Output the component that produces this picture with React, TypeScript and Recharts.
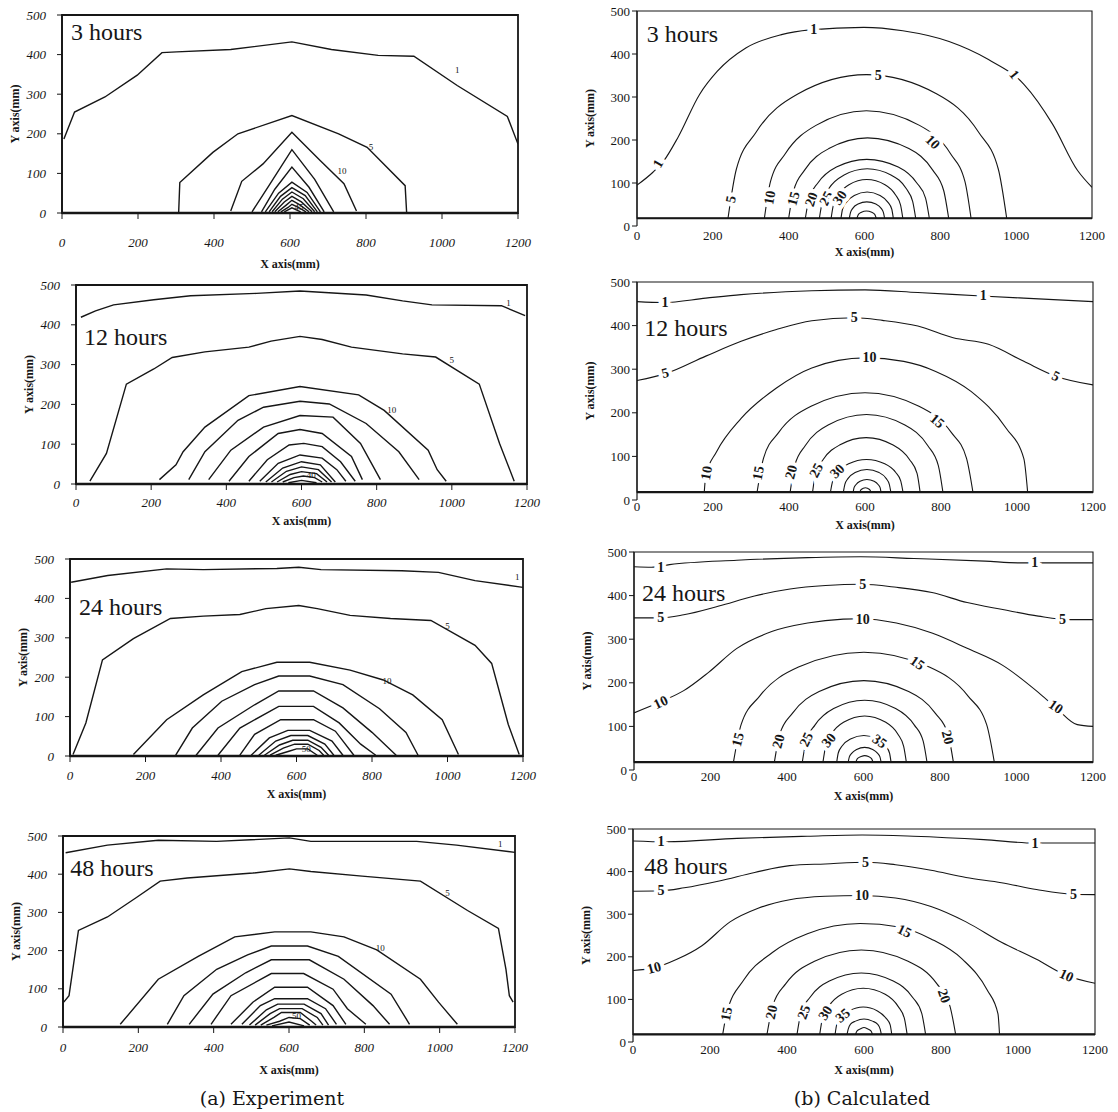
import React from 'react';
import { LineChart, Line, XAxis, YAxis, ReferenceArea, ReferenceDot, ReferenceLine } from 'recharts';

type Pt = [number, number];
type Contour = { level: number; pts: Pt[] };
type Tag = [number, number, string, number];
type Box = { x0: number; x1: number; top: number; bottom: number; tick: number; label: number };

const xTicks = [0, 200, 400, 600, 800, 1000, 1200];
const yTicks = [0, 100, 200, 300, 400, 500];
const titles = ['3 hours', '12 hours', '24 hours', '48 hours'];
const captions = ['(a) Experiment', '(b) Calculated'];
const calcBase = 18;

// (a) experiment, contour points in mm
const exp3: Contour[] = [
  { level: 1, pts: [[5, 187], [33, 255], [113, 293], [198, 348], [263, 405], [302, 407], [444, 413], [605, 432], [709, 413], [832, 398], [926, 396], [1040, 322], [1172, 244], [1200, 174]] },
  { level: 5, pts: [[307, 1], [310, 77], [397, 153], [463, 200], [605, 246], [728, 200], [803, 166], [903, 69], [907, 0]] },
  { level: 10, pts: [[444, 5], [473, 80], [529, 124], [605, 204], [680, 132], [742, 74], [775, 5]] },
  { level: 15, pts: [[500, 3], [545, 70], [605, 160], [665, 85], [715, 3]] },
  { level: 20, pts: [[525, 3], [560, 60], [605, 116], [650, 65], [690, 3]] },
  { level: 25, pts: [[535, 3], [570, 50], [605, 78], [645, 52], [680, 3]] },
  { level: 30, pts: [[545, 3], [575, 42], [605, 64], [640, 44], [672, 3]] },
  { level: 35, pts: [[553, 3], [580, 35], [605, 53], [635, 36], [665, 3]] },
  { level: 40, pts: [[560, 3], [585, 28], [605, 42], [630, 28], [658, 3]] },
  { level: 45, pts: [[568, 3], [590, 20], [605, 32], [625, 21], [650, 3]] },
  { level: 50, pts: [[576, 3], [595, 14], [605, 22], [622, 14], [642, 3]] },
  { level: 55, pts: [[585, 3], [605, 13], [628, 3]] },
];
const exp12: Contour[] = [
  { level: 1, pts: [[13, 419], [52, 435], [100, 450], [207, 463], [305, 473], [480, 479], [596, 485], [772, 475], [869, 460], [947, 450], [1132, 448], [1195, 423]] },
  { level: 5, pts: [[37, 7], [81, 77], [134, 251], [207, 289], [256, 318], [343, 332], [460, 344], [519, 359], [596, 371], [655, 363], [733, 344], [869, 327], [957, 319], [1073, 251], [1127, 102], [1166, 7]] },
  { level: 10, pts: [[222, 11], [266, 48], [285, 81], [343, 143], [460, 222], [596, 245], [752, 224], [820, 185], [937, 85], [961, 36], [985, 7]] },
  { level: 15, pts: [[300, 11], [343, 81], [431, 160], [499, 193], [596, 208], [674, 201], [772, 152], [859, 81], [913, 11]] },
  { level: 20, pts: [[353, 11], [412, 85], [499, 143], [596, 172], [684, 168], [757, 102], [810, 11]] },
  { level: 25, pts: [[407, 7], [460, 69], [538, 127], [596, 137], [655, 127], [733, 69], [762, 11]] },
  { level: 30, pts: [[460, 7], [509, 61], [567, 98], [606, 102], [655, 94], [704, 56], [743, 7]] },
  { level: 35, pts: [[489, 7], [538, 52], [596, 73], [655, 65], [694, 36], [718, 7]] },
  { level: 40, pts: [[505, 5], [550, 40], [600, 56], [650, 48], [690, 5]] },
  { level: 45, pts: [[520, 5], [560, 32], [600, 43], [645, 36], [680, 5]] },
  { level: 50, pts: [[535, 5], [570, 24], [600, 31], [640, 26], [668, 5]] },
  { level: 55, pts: [[550, 5], [580, 16], [605, 20], [635, 16], [655, 5]] },
  { level: 60, pts: [[565, 3], [600, 9], [640, 3]] },
];
const exp24: Contour[] = [
  { level: 1, pts: [[3, 441], [100, 458], [256, 475], [353, 473], [548, 476], [606, 479], [665, 473], [879, 470], [976, 466], [1073, 445], [1200, 428]] },
  { level: 5, pts: [[8, 4], [42, 84], [86, 244], [168, 298], [266, 349], [353, 355], [450, 359], [519, 374], [606, 382], [655, 374], [742, 357], [849, 349], [956, 344], [1073, 281], [1117, 235], [1161, 80], [1190, 4]] },
  { level: 10, pts: [[168, 4], [256, 92], [353, 155], [455, 214], [548, 238], [635, 238], [742, 218], [830, 193], [908, 155], [986, 92], [1029, 4]] },
  { level: 15, pts: [[280, 2], [324, 71], [402, 139], [489, 181], [553, 203], [635, 203], [723, 181], [820, 120], [890, 60], [922, 2]] },
  { level: 20, pts: [[334, 2], [392, 71], [489, 130], [553, 165], [645, 165], [723, 122], [800, 60], [864, 2]] },
  { level: 25, pts: [[392, 2], [450, 71], [553, 126], [645, 126], [713, 84], [770, 30], [810, 2]] },
  { level: 30, pts: [[450, 2], [489, 55], [558, 92], [645, 92], [703, 63], [752, 2]] },
  { level: 35, pts: [[480, 2], [528, 46], [577, 65], [635, 65], [694, 38], [723, 2]] },
  { level: 40, pts: [[500, 2], [545, 38], [585, 52], [630, 52], [675, 30], [699, 2]] },
  { level: 45, pts: [[515, 2], [555, 28], [590, 40], [630, 40], [665, 22], [685, 2]] },
  { level: 50, pts: [[530, 2], [565, 20], [595, 30], [630, 30], [660, 14], [672, 2]] },
  { level: 55, pts: [[545, 2], [580, 12], [600, 18], [630, 18], [655, 2]] },
];
const exp48: Contour[] = [
  { level: 1, pts: [[7, 456], [118, 476], [253, 489], [408, 486], [601, 495], [658, 486], [939, 486], [1045, 476], [1200, 457]] },
  { level: 5, pts: [[2, 65], [16, 82], [41, 253], [118, 288], [195, 339], [258, 382], [330, 390], [504, 403], [601, 414], [658, 407], [794, 395], [949, 382], [1074, 305], [1156, 258], [1176, 151], [1185, 82], [1195, 65]] },
  { level: 10, pts: [[152, 7], [253, 125], [359, 185], [456, 236], [562, 249], [658, 249], [746, 236], [833, 202], [949, 125], [997, 65], [1047, 7]] },
  { level: 15, pts: [[277, 7], [321, 82], [408, 151], [490, 189], [553, 212], [649, 212], [731, 185], [871, 86], [920, 7]] },
  { level: 20, pts: [[335, 7], [398, 86], [485, 142], [553, 176], [654, 176], [746, 125], [823, 56], [867, 7]] },
  { level: 25, pts: [[393, 7], [446, 82], [553, 140], [639, 140], [717, 99], [755, 48], [804, 7]] },
  { level: 30, pts: [[446, 7], [504, 65], [562, 104], [649, 104], [717, 56], [751, 7]] },
  { level: 35, pts: [[475, 7], [524, 56], [562, 74], [649, 74], [697, 48], [726, 7]] },
  { level: 40, pts: [[495, 5], [540, 45], [570, 60], [640, 60], [685, 35], [705, 5]] },
  { level: 45, pts: [[510, 5], [550, 35], [575, 48], [635, 48], [675, 25], [690, 5]] },
  { level: 50, pts: [[525, 5], [560, 25], [580, 38], [630, 38], [660, 15], [672, 5]] },
  { level: 55, pts: [[540, 5], [575, 15], [600, 25], [630, 22], [655, 5]] },
  { level: 60, pts: [[555, 3], [600, 13], [640, 3]] },
];

// (b) calculated
const calc3: Contour[] = [
  { level: 1, pts: [[0, 95], [42, 125], [71, 152], [108, 206], [165, 306], [212, 360], [287, 414], [381, 445], [456, 456], [598, 462], [701, 454], [823, 429], [927, 387], [1021, 329], [1096, 237], [1162, 129], [1200, 90]] },
  { level: 5, pts: [[240, 18], [262, 132], [314, 218], [424, 307], [605, 352], [791, 307], [901, 218], [953, 132], [975, 18]] },
  { level: 10, pts: [[336, 18], [352, 103], [391, 168], [472, 234], [605, 268], [745, 234], [827, 168], [865, 103], [881, 18]] },
  { level: 15, pts: [[400, 18], [413, 82], [442, 130], [506, 180], [608, 205], [717, 180], [780, 130], [809, 82], [822, 18]] },
  { level: 20, pts: [[444, 18], [454, 65], [477, 100], [526, 137], [606, 155], [689, 137], [738, 100], [761, 65], [771, 18]] },
  { level: 25, pts: [[481, 18], [489, 57], [506, 87], [545, 118], [607, 133], [671, 118], [710, 87], [727, 57], [735, 18]] },
  { level: 30, pts: [[512, 18], [518, 49], [531, 72], [559, 96], [606, 108], [654, 96], [682, 72], [695, 49], [701, 18]] },
  { level: 35, pts: [[538, 18], [542, 39], [552, 55], [573, 71], [607, 79], [641, 71], [662, 55], [672, 39], [676, 18]] },
  { level: 40, pts: [[560, 18], [563, 31], [569, 41], [583, 51], [606, 56], [630, 51], [644, 41], [650, 31], [653, 18]] },
  { level: 45, pts: [[580, 18], [584, 27], [592, 32], [605, 35], [619, 32], [627, 27], [631, 18]] },
];
const calc12: Contour[] = [
  { level: 1, pts: [[0, 455], [70, 453], [181, 463], [274, 471], [460, 480], [600, 482], [739, 476], [907, 468], [1018, 463], [1200, 455]] },
  { level: 5, pts: [[0, 274], [79, 291], [181, 330], [274, 364], [367, 391], [460, 411], [572, 418], [646, 412], [739, 399], [832, 372], [925, 357], [1018, 318], [1102, 284], [1200, 264]] },
  { level: 10, pts: [[177, 18], [181, 56], [209, 110], [274, 187], [367, 257], [460, 303], [600, 326], [702, 318], [786, 295], [879, 249], [972, 164], [1018, 95], [1028, 18]] },
  { level: 15, pts: [[316, 18], [333, 96], [373, 155], [458, 215], [600, 246], [742, 215], [827, 155], [867, 96], [884, 18]] },
  { level: 20, pts: [[403, 18], [415, 79], [443, 125], [503, 172], [604, 196], [705, 172], [765, 125], [793, 79], [805, 18]] },
  { level: 25, pts: [[462, 18], [470, 61], [490, 93], [533, 126], [603, 143], [674, 126], [717, 93], [737, 61], [745, 18]] },
  { level: 30, pts: [[509, 18], [515, 44], [528, 63], [557, 83], [604, 93], [652, 83], [681, 63], [694, 44], [700, 18]] },
  { level: 35, pts: [[543, 18], [547, 36], [555, 49], [574, 63], [605, 70], [637, 63], [656, 49], [664, 36], [668, 18]] },
  { level: 40, pts: [[569, 18], [571, 28], [576, 35], [587, 43], [605, 47], [624, 43], [635, 35], [640, 28], [642, 18]] },
  { level: 45, pts: [[586, 18], [590, 24], [601, 28], [612, 24], [616, 18]] },
];
const calc24: Contour[] = [
  { level: 1, pts: [[0, 466], [46, 465], [93, 471], [269, 481], [454, 487], [593, 489], [732, 485], [918, 479], [1010, 475], [1200, 475]] },
  { level: 5, pts: [[0, 349], [70, 349], [130, 356], [222, 376], [315, 399], [408, 415], [501, 423], [593, 426], [686, 419], [779, 407], [871, 384], [964, 368], [1057, 353], [1140, 345], [1200, 345]] },
  { level: 10, pts: [[0, 131], [74, 158], [130, 182], [195, 224], [269, 279], [362, 318], [454, 337], [547, 346], [593, 347], [686, 337], [779, 314], [871, 279], [964, 240], [1057, 178], [1103, 143], [1159, 104], [1200, 100]] },
  { level: 15, pts: [[260, 18], [280, 104], [328, 169], [430, 236], [601, 270], [772, 236], [874, 169], [922, 104], [942, 18]] },
  { level: 20, pts: [[367, 18], [381, 82], [414, 130], [484, 180], [601, 205], [718, 180], [788, 130], [821, 82], [835, 18]] },
  { level: 25, pts: [[440, 18], [450, 66], [473, 103], [522, 141], [603, 160], [684, 141], [733, 103], [756, 66], [766, 18]] },
  { level: 30, pts: [[494, 18], [501, 54], [516, 82], [549, 110], [603, 124], [657, 110], [690, 82], [705, 54], [712, 18]] },
  { level: 35, pts: [[530, 18], [534, 39], [544, 55], [566, 71], [601, 79], [636, 71], [658, 55], [668, 39], [672, 18]] },
  { level: 40, pts: [[560, 18], [563, 30], [569, 38], [582, 47], [603, 52], [624, 47], [637, 38], [643, 30], [646, 18]] },
  { level: 45, pts: [[580, 18], [584, 26], [594, 31], [603, 33], [613, 31], [621, 26], [625, 18]] },
];
const calc48: Contour[] = [
  { level: 1, pts: [[0, 472], [87, 470], [270, 478], [453, 483], [595, 486], [728, 483], [911, 475], [1044, 467], [1200, 467]] },
  { level: 5, pts: [[0, 354], [73, 355], [133, 362], [224, 378], [316, 398], [407, 414], [499, 418], [609, 422], [682, 416], [774, 403], [865, 386], [957, 374], [1048, 358], [1140, 347], [1200, 346]] },
  { level: 10, pts: [[0, 168], [55, 174], [114, 194], [179, 226], [252, 282], [325, 314], [407, 334], [499, 342], [595, 344], [682, 338], [774, 318], [865, 282], [957, 234], [1048, 194], [1121, 158], [1200, 138]] },
  { level: 15, pts: [[233, 18], [243, 66], [288, 146], [362, 210], [453, 254], [590, 278], [691, 270], [774, 242], [856, 194], [920, 122], [948, 66], [952, 18]] },
  { level: 20, pts: [[348, 18], [363, 85], [397, 137], [470, 189], [593, 216], [716, 189], [789, 137], [823, 85], [838, 18]] },
  { level: 25, pts: [[426, 18], [436, 67], [459, 104], [510, 143], [593, 162], [676, 143], [727, 104], [750, 67], [760, 18]] },
  { level: 30, pts: [[485, 18], [492, 55], [508, 83], [542, 112], [598, 126], [655, 112], [689, 83], [705, 55], [712, 18]] },
  { level: 35, pts: [[525, 18], [529, 40], [540, 56], [562, 73], [598, 82], [635, 73], [657, 56], [668, 40], [672, 18]] },
  { level: 40, pts: [[556, 18], [559, 30], [565, 42], [578, 49], [600, 54], [622, 49], [635, 42], [642, 30], [645, 18]] },
  { level: 45, pts: [[578, 18], [582, 26], [591, 31], [600, 34], [609, 31], [618, 26], [622, 18]] },
];

// contour labels: [x, y, text, angle]
const expTags3: Tag[] = [[1040, 360, '1', 0], [813, 166, '5', 0], [737, 107, '10', 0], [624, 16, '45', 0]];
const expTags12: Tag[] = [[1151, 454, '1', 0], [1000, 311, '5', 0], [840, 185, '10', 0], [626, 23, '40', 0]];
const expTags24: Tag[] = [[1185, 454, '1', 0], [1000, 330, '5', 0], [840, 191, '10', 0], [626, 17, '50', 0]];
const expTags48: Tag[] = [[1161, 480, '1', 0], [1021, 352, '5', 0], [842, 206, '10', 0], [620, 29, '50', 0]];
const calcTags3: Tag[] = [
  [56, 145, '1', -60], [466, 456, '1', 0], [995, 352, '1', 50], [636, 350, '5', 0], [248, 62, '5', -80],
  [350, 66, '10', -80], [413, 64, '15', -75], [460, 62, '20', -70], [499, 64, '25', -62], [535, 66, '30', -55], [780, 195, '10', 45],
];
const calcTags12: Tag[] = [
  [74, 453, '1', 0], [911, 468, '1', 0], [74, 291, '5', -15], [572, 418, '5', 0], [1102, 284, '5', 25], [612, 326, '10', 0],
  [183, 62, '10', -80], [790, 181, '15', 40], [319, 62, '15', -80], [406, 64, '20', -75], [472, 68, '25', -62], [527, 66, '30', -45],
];
const calcTags24: Tag[] = [
  [70, 465, '1', 0], [1048, 475, '1', 0], [70, 349, '5', 0], [598, 426, '5', 0], [1120, 346, '5', 0], [70, 155, '10', -25],
  [598, 346, '10', 0], [1103, 145, '10', 35], [741, 245, '15', 35], [272, 70, '15', -75], [378, 66, '20', -75],
  [451, 70, '25', -65], [509, 68, '30', -50], [642, 66, '35', 35], [820, 75, '20', 75],
];
const calcTags48: Tag[] = [
  [73, 470, '1', 0], [1044, 467, '1', 0], [73, 355, '5', 0], [604, 422, '5', 0], [1144, 347, '5', 0], [55, 174, '10', -15],
  [595, 344, '10', 0], [1126, 156, '10', 25], [705, 260, '15', 25], [243, 66, '15', -80], [360, 70, '20', -78],
  [444, 70, '25', -70], [500, 68, '30', -58], [545, 62, '35', -40], [808, 108, '20', 70],
];

const expTitleAt: Pt[] = [[24, 457], [21, 369], [24, 378], [19, 416]];
const calcTitleAt: Pt[] = [[26, 447], [19, 394], [21, 407], [29, 414]];

// page layout (px)
const leftBoxes: Box[] = [
  { x0: 62, x1: 518, top: 15, bottom: 213, tick: 30, label: 49 },
  { x0: 76, x1: 527, top: 285, bottom: 484, tick: 19, label: 35 },
  { x0: 70, x1: 523, top: 559, bottom: 756, tick: 20, label: 36 },
  { x0: 63, x1: 515, top: 836, bottom: 1027, tick: 21, label: 41 },
];
const rightBoxes: Box[] = [
  { x0: 637, x1: 1092, top: 11, bottom: 226, tick: 10, label: 24 },
  { x0: 637, x1: 1093, top: 282, bottom: 500, tick: 7, label: 23 },
  { x0: 634, x1: 1093, top: 552, bottom: 770, tick: 7, label: 24 },
  { x0: 633, x1: 1095, top: 829, bottom: 1042, tick: 8, label: 26 },
];

const SERIF = '"Liberation Serif", "Times New Roman", serif';
const INK = '#161616';

function Panel({ exp, box, contours, tags, title, titleAt }: {
  exp: boolean; box: Box; contours: Contour[]; tags: Tag[]; title: string; titleAt: Pt;
}) {
  const yw = 60;
  const mt = 6;
  const mr = 24;
  const xh = box.label + 10;
  const w = yw + (box.x1 - box.x0) + mr;
  const h = mt + (box.bottom - box.top) + xh;
  const tickSize = exp ? 6 : 0;
  const tickMargin = Math.max(0, box.tick - 5 - tickSize);
  const axisText = { fontSize: 12, fontWeight: 700, fontFamily: SERIF, fill: INK };

  return (
    <div style={{ position: 'absolute', left: box.x0 - yw, top: box.top - mt }}>
      <LineChart width={w} height={h} margin={{ top: mt, right: mr, bottom: 0, left: 0 }}>
        <XAxis
          type="number"
          dataKey="x"
          domain={[0, 1200]}
          ticks={xTicks}
          interval={0}
          allowDataOverflow
          height={xh}
          axisLine={exp ? { stroke: INK, strokeWidth: 2.6 } : false}
          tickLine={exp ? { stroke: INK } : false}
          tickSize={tickSize}
          tickMargin={tickMargin}
          tick={{ fontSize: 13, fill: INK, fontFamily: SERIF, fontStyle: exp ? 'italic' : 'normal' }}
          label={{ value: 'X axis(mm)', position: 'insideBottom', offset: 4, style: axisText }}
        />
        <YAxis
          type="number"
          domain={[0, 500]}
          ticks={yTicks}
          interval={0}
          allowDataOverflow
          width={yw}
          axisLine={{ stroke: INK, strokeWidth: exp ? 1.6 : 1.2 }}
          tickLine={{ stroke: INK }}
          tickSize={5}
          tickMargin={exp ? 11 : 2}
          tick={{ fontSize: 13, fill: INK, fontFamily: SERIF, fontStyle: exp ? 'italic' : 'normal' }}
          label={{ value: 'Y axis(mm)', angle: -90, position: 'insideLeft', offset: 13, style: { ...axisText, textAnchor: 'middle' } }}
        />
        <ReferenceArea
          x1={0}
          x2={1200}
          y1={exp ? 0 : calcBase}
          y2={500}
          fill="none"
          stroke={INK}
          strokeWidth={exp ? 1.8 : 1.1}
          ifOverflow="visible"
        />
        {!exp && <ReferenceLine y={calcBase} stroke={INK} strokeWidth={2.2} />}
        {contours.map((c) => (
          <Line
            key={c.level}
            data={c.pts.map(([x, y]) => ({ x, y }))}
            dataKey="y"
            type={exp ? 'linear' : 'monotone'}
            stroke={INK}
            strokeWidth={exp ? 1.4 : 1.1}
            dot={false}
            activeDot={false}
            isAnimationActive={false}
          />
        ))}
        {tags.map(([x, y, text, angle], i) => (
          <ReferenceDot
            key={i}
            x={x}
            y={y}
            r={1}
            shape={(p: any) => (
              <text
                x={p.cx}
                y={p.cy}
                transform={`rotate(${angle} ${p.cx} ${p.cy})`}
                textAnchor="middle"
                dominantBaseline="central"
                fontSize={exp ? 9 : 14}
                fontWeight={exp ? 400 : 700}
                fontFamily={SERIF}
                fill={INK}
                stroke={exp ? 'none' : '#fff'}
                strokeWidth={exp ? 0 : 8}
                paintOrder="stroke"
              >
                {text}
              </text>
            )}
          />
        ))}
        <ReferenceDot
          x={titleAt[0]}
          y={titleAt[1]}
          r={1}
          shape={(p: any) => (
            <text x={p.cx} y={p.cy} dominantBaseline="central" fontSize={24} fontFamily={SERIF} fill={INK}>
              {title}
            </text>
          )}
        />
      </LineChart>
    </div>
  );
}

export default function App() {
  const expSets = [exp3, exp12, exp24, exp48];
  const expTags = [expTags3, expTags12, expTags24, expTags48];
  const calcSets = [calc3, calc12, calc24, calc48];
  const calcTags = [calcTags3, calcTags12, calcTags24, calcTags48];
  const captionStyle = {
    position: 'absolute' as const,
    top: 1087,
    width: 240,
    textAlign: 'center' as const,
    fontFamily: '"DejaVu Serif", serif',
    fontSize: 19,
    color: INK,
  };

  return (
    <div style={{ position: 'absolute', left: 0, top: 0, width: 1118, height: 1112, background: '#fff', overflow: 'hidden' }}>
      {titles.map((t, i) => (
        <Panel key={'a' + t} exp box={leftBoxes[i]} contours={expSets[i]} tags={expTags[i]} title={t} titleAt={expTitleAt[i]} />
      ))}
      {titles.map((t, i) => (
        <Panel key={'b' + t} exp={false} box={rightBoxes[i]} contours={calcSets[i]} tags={calcTags[i]} title={t} titleAt={calcTitleAt[i]} />
      ))}
      <div style={{ ...captionStyle, left: 152 }}>{captions[0]}</div>
      <div style={{ ...captionStyle, left: 742 }}>{captions[1]}</div>
    </div>
  );
}
